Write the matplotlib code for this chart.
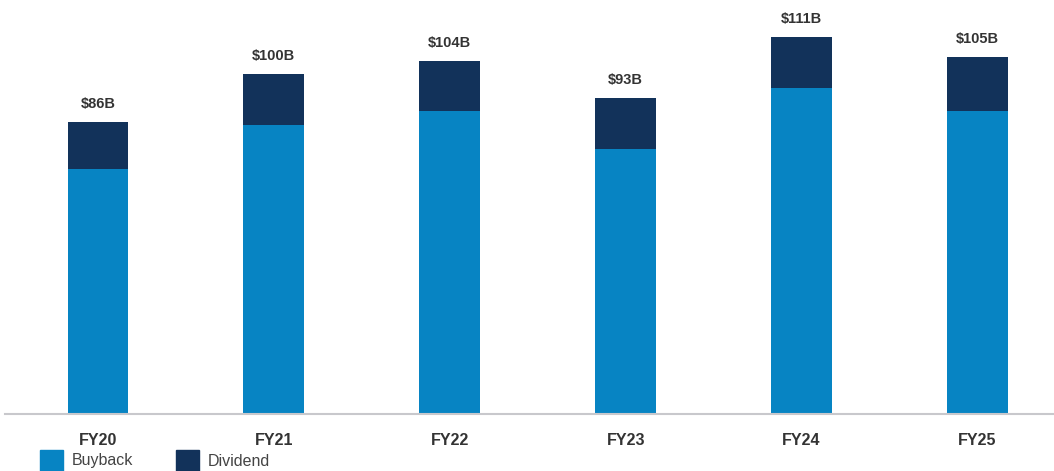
import matplotlib.pyplot as plt
from matplotlib.patches import Rectangle

years = ["FY20", "FY21", "FY22", "FY23", "FY24", "FY25"]
totals = [86, 100, 104, 93, 111, 105]
dividend = [14, 15, 15, 15, 15, 16]
buyback = [t - d for t, d in zip(totals, dividend)]

BUYBACK_COLOR = "#0784c3"
DIVIDEND_COLOR = "#12325a"
TEXT_COLOR = "#333333"

plt.rcParams["font.family"] = ["Liberation Sans", "DejaVu Sans"]

fig = plt.figure(figsize=(10.54, 4.71), dpi=100)
ax = fig.add_axes([5 / 1054, 57 / 471, 1 - 5 / 1054, 414 / 471])

x = list(range(len(years)))
width = 0.345
ax.bar(x, buyback, width, color=BUYBACK_COLOR)
ax.bar(x, dividend, width, bottom=buyback, color=DIVIDEND_COLOR)

for xi, t in zip(x, totals):
    ax.text(xi, t + 3.2, f"${t}B", ha="center", va="bottom",
            fontsize=10.5, fontweight="bold", color=TEXT_COLOR)

ax.set_xlim(-0.528, 5.435)
ax.set_ylim(0, 121.8)
ax.set_xticks(x)
ax.set_xticklabels(years, fontsize=11.5, fontweight="bold", color=TEXT_COLOR)
ax.tick_params(axis="x", length=0, pad=14)
ax.set_yticks([])
for side in ["top", "right", "left"]:
    ax.spines[side].set_visible(False)
ax.spines["bottom"].set_color("#c8c8cc")
ax.spines["bottom"].set_linewidth(1.5)

# legend drawn by hand along the bottom edge
for x0, label, color in [(40, "Buyback", BUYBACK_COLOR), (176, "Dividend", DIVIDEND_COLOR)]:
    fig.patches.append(Rectangle((x0 / 1054, 0), 23 / 1054, 21 / 471,
                                 transform=fig.transFigure, color=color))
    fig.text((x0 + 32) / 1054, 10 / 471, label, ha="left", va="center",
             fontsize=11.5, color="#444444")

fig.savefig("out.png", dpi=100)
